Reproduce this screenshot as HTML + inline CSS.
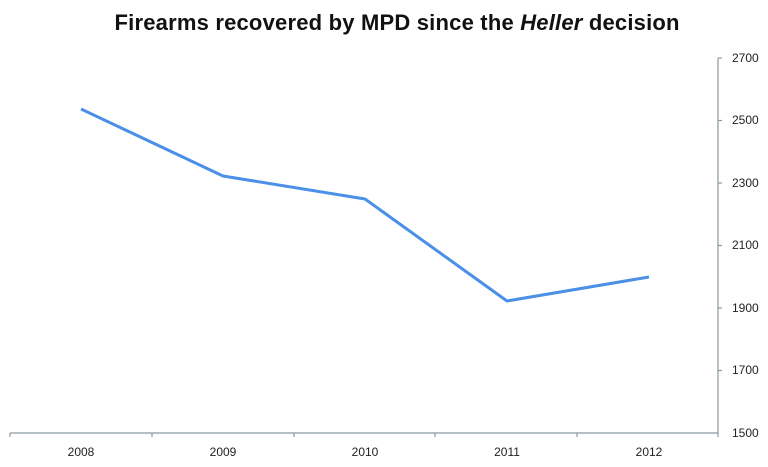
<!DOCTYPE html><html><head><style>body{margin:0;background:#fff}</style></head><body>
<svg width="768" height="462" xmlns="http://www.w3.org/2000/svg" font-family="Liberation Sans, sans-serif">
<text x="397" y="30" text-anchor="middle" font-size="22" font-weight="bold" fill="#111" textLength="565">Firearms recovered by MPD since the <tspan font-style="italic">Heller</tspan> decision</text>
<g stroke="#8a9aa0" stroke-width="1.2" fill="none">
<line x1="10" y1="433" x2="718" y2="433"/>
<line x1="718" y1="58" x2="718" y2="433"/>
<line x1="10" y1="433" x2="10" y2="437"/><line x1="152" y1="433" x2="152" y2="437"/><line x1="294" y1="433" x2="294" y2="437"/><line x1="435" y1="433" x2="435" y2="437"/><line x1="577" y1="433" x2="577" y2="437"/><line x1="718" y1="433" x2="718" y2="437"/>
<line x1="718" y1="58" x2="722" y2="58"/><line x1="718" y1="120.5" x2="722" y2="120.5"/><line x1="718" y1="183" x2="722" y2="183"/><line x1="718" y1="245.5" x2="722" y2="245.5"/><line x1="718" y1="308" x2="722" y2="308"/><line x1="718" y1="370.5" x2="722" y2="370.5"/>
</g>
<g font-size="12" fill="#222">
<text x="732" y="62">2700</text><text x="732" y="124">2500</text><text x="732" y="187">2300</text><text x="732" y="249">2100</text><text x="732" y="312">1900</text><text x="732" y="374">1700</text><text x="732" y="437">1500</text>
<g text-anchor="middle"><text x="81" y="456">2008</text><text x="223" y="456">2009</text><text x="365" y="456">2010</text><text x="507" y="456">2011</text><text x="649" y="456">2012</text></g>
</g>
<polyline points="81,109 223,176 365,199 507,301 649,277" fill="none" stroke="#4a90e8" stroke-width="3" stroke-linejoin="round"/>
</svg></body></html>
